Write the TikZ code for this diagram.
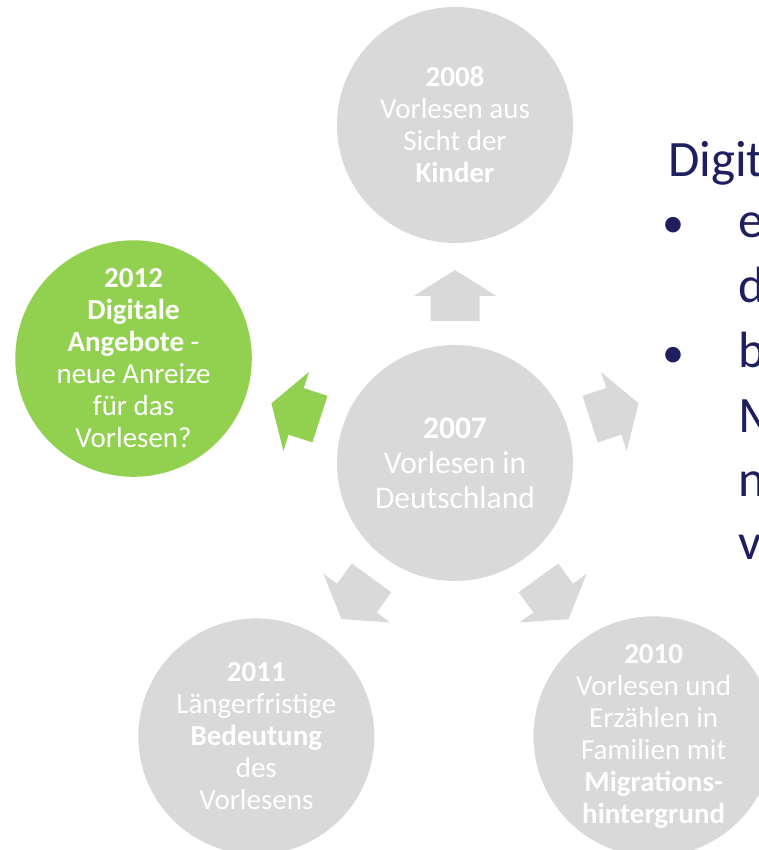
\documentclass[tikz,border=0pt]{standalone}
\usepackage{fontspec}
\setmainfont{Carlito}
\usetikzlibrary{positioning}
\definecolor{kreis}{HTML}{D9D9D9}
\definecolor{gruen}{HTML}{92D050}
\definecolor{marine}{HTML}{1F1F5F}

\begin{document}
\begin{tikzpicture}[x=1pt, y=1pt,
  studie/.style={circle, fill=kreis, text=white, minimum size=236pt, inner sep=0pt,
    align=center, font=\fontsize{29}{32}\selectfont},
  zeile/.style={anchor=base west, text=marine, inner sep=0pt, font=\fontsize{51}{60}\selectfont}]
  \useasboundingbox (0,0) rectangle (759,850);
  \clip (0,0) rectangle (759,850);

  \begin{scope}[shift={(455,387)}]
    \node[studie, font=\fontsize{31.5}{35}\selectfont] (s2007) at (0,0)
      {\textbf{2007}\\Vorlesen in\\Deutschland};
    \node[studie] (s2008) at (90:338) {\textbf{2008}\\Vorlesen aus\\Sicht der\\\textbf{Kinder}};
    \node[studie, fill=gruen] (s2012) at (162:338)
      {\textbf{2012}\\\textbf{Digitale}\\\textbf{Angebote} -\\neue Anreize\\für das\\Vorlesen?};
    \node[studie] (s2011) at (234:338)
      {\textbf{2011}\\Längerfristige\\\textbf{Bedeutung}\\des\\Vorlesens};
    \node[studie] (s2010) at (306:338)
      {\textbf{2010}\\Vorlesen und\\Erzählen in\\Familien mit\\\textbf{Migrations-}\\\textbf{hintergrund}};
    % block arrows around the middle circle
    \foreach \w/\farbe in {90/kreis, 18/kreis, 306/kreis, 234/kreis, 162/gruen}
      \fill[\farbe, rotate=\w] (142,-24.5) -- (167,-24.5) -- (167,-41.5) -- (193,0)
        -- (167,41.5) -- (167,24.5) -- (142,24.5) -- cycle;
  \end{scope}

  \node[zeile] (titel) at (668,673) {Digit};
  \node[zeile, anchor=base, font=\fontsize{44}{60}\selectfont] (punktA) at (673,612) {•};
  \node[zeile] (zeileA) at (738,612) {e};
  \node[zeile] (zeileB) at (738,547) {d};
  \node[zeile, anchor=base, font=\fontsize{44}{60}\selectfont] (punktB) at (673,482) {•};
  \node[zeile] (zeileC) at (738,482) {b};
  \node[zeile] (zeileD) at (738,417) {M};
  \node[zeile] (zeileE) at (738,353) {n};
  \node[zeile] (zeileF) at (738,290) {v};
\end{tikzpicture}
\end{document}
